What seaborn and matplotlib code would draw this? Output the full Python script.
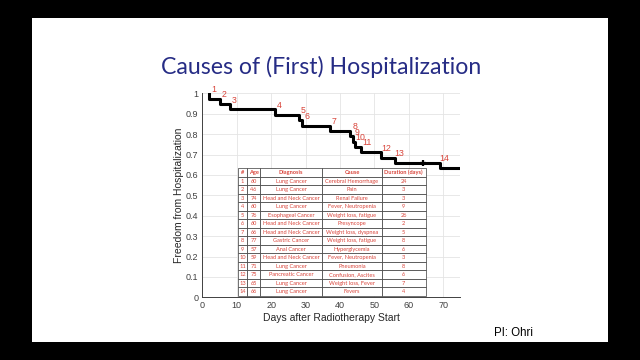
import numpy as np
import pandas as pd
import matplotlib
matplotlib.use("Agg")
import matplotlib.pyplot as plt
from matplotlib.patches import Rectangle
import seaborn as sns

# Kaplan-Meier steps
event_days = [2, 5, 8, 21, 28, 29, 37, 43, 43.8, 44.5, 46, 52, 56, 69]
surv_after = [0.974, 0.947, 0.921, 0.895, 0.868, 0.842, 0.816, 0.789,
              0.763, 0.737, 0.711, 0.684, 0.658, 0.632]
end_day = 75
censor_days = [64]
censor_surv = [0.658]

# table of hospitalizations
t_ids = [str(i) for i in range(1, 15)]
t_age = ["60", "46", "74", "60", "76", "60", "66", "77", "57", "59", "71", "75", "65", "66"]
t_diag = ["Lung Cancer", "Lung Cancer", "Head and Neck Cancer", "Lung Cancer",
          "Esophageal Cancer", "Head and Neck Cancer", "Head and Neck Cancer",
          "Gastric Cancer", "Anal Cancer", "Head and Neck Cancer", "Lung Cancer",
          "Pancreatic Cancer", "Lung Cancer", "Lung Cancer"]
t_cause = ["Cerebral Hemorrhage", "Pain", "Renal Failure", "Fever, Neutropenia",
           "Weight loss, fatigue", "Presyncope", "Weight loss, dyspnea",
           "Weight loss, fatigue", "Hyperglycemia", "Fever, Neutropenia",
           "Pneumonia", "Confusion, Ascites", "Weight loss, Fever", "Fevers"]
t_dur = ["24", "3", "3", "9", "26", "2", "5", "8", "6", "3", "8", "6", "7", "4"]
t_cols = ["#", "Age", "Diagnosis", "Cause", "Duration (days)"]

RED = "#d9453b"

sns.set_style("white")
plt.rcParams["font.family"] = ["Liberation Sans", "DejaVu Sans"]

fig = plt.figure(figsize=(6.4, 3.6), dpi=100, facecolor="black")
fig.patches.append(Rectangle((32 / 640, 18 / 360), 576 / 640, 324 / 360,
                             transform=fig.transFigure, facecolor="white",
                             edgecolor="none", zorder=-1))

fig.text(0.5016, 1 - 67 / 360, "Causes of (First) Hospitalization",
         ha="center", va="center", fontsize=16.7, color="#262c85",
         family=["Lato", "DejaVu Sans"])
fig.text(494 / 640, 1 - 333 / 360, "PI: Ohri", ha="left", va="center",
         fontsize=8.3, color="black")

ax = fig.add_axes([202.4 / 640, 1 - 297.3 / 360, 258 / 640, 204 / 360])
ax.set_zorder(2)
ax.set_facecolor("white")

xs = [event_days[0]] + event_days + [end_day]
ys = [1.0] + surv_after + [surv_after[-1]]
km = pd.DataFrame({"day": xs, "surv": ys})
sns.lineplot(data=km, x="day", y="surv", estimator=None, sort=False,
             drawstyle="steps-post", color="black", lw=2.2, ax=ax, zorder=3)
ax.plot(censor_days, censor_surv, marker="+", ls="none", color="black",
        ms=5, mew=1.6, zorder=4)

# event number labels
before = [1.0] + surv_after[:-1]
for i, (d, s) in enumerate(zip(event_days, before)):
    dx = 1.8 if i == 10 else 1.3
    ax.text(d + dx, s + 0.02, str(i + 1), color=RED, fontsize=6.3,
            ha="center", va="center", zorder=5)

ax.set_xlim(0, 75)
ax.set_ylim(0, 1)
ax.set_xticks(np.arange(0, 71, 10))
ax.set_yticks(np.round(np.arange(0, 1.01, 0.1), 1))
ax.set_yticklabels(["0"] + [f"{v:.1f}" for v in np.arange(0.1, 0.95, 0.1)] + ["1"])
ax.grid(True, color="#e4e4e4", lw=0.6)
ax.tick_params(labelsize=6.5, colors="#404040", length=2, direction="in", pad=3)
for sp in ["top", "right"]:
    ax.spines[sp].set_visible(False)
for sp in ["left", "bottom"]:
    ax.spines[sp].set_color("#404040")
    ax.spines[sp].set_linewidth(0.7)
ax.set_xlabel("Days after Radiotherapy Start", fontsize=7.5, color="#262626", labelpad=2)
ax.set_ylabel("Freedom from Hospitalization", fontsize=7.5, color="#262626", labelpad=1)

rows = list(zip(t_ids, t_age, t_diag, t_cause, t_dur))
col_w = np.array([9, 13, 62.4, 59.2, 44.1])
tb = ax.table(cellText=rows, colLabels=t_cols, cellLoc="center",
              colWidths=list(col_w / col_w.sum()),
              bbox=[(238 - 202.4) / 258, (297.3 - 296) / 204,
                    (425.7 - 238) / 258, (296 - 168.3) / 204])
tb.auto_set_font_size(False)
tb.set_fontsize(4.1)
tb.set_zorder(6)
for (r, c), cell in tb.get_celld().items():
    cell.set_edgecolor("#3a3a3a")
    cell.set_linewidth(0.5)
    cell.set_facecolor("white")
    cell.get_text().set_color(RED)
    cell.get_text().set_family(["Lato", "DejaVu Sans"])
    cell.PAD = 0.02
    if r == 0:
        cell.get_text().set_fontweight("bold")

fig.savefig("out.png", dpi=100, facecolor=fig.get_facecolor())
